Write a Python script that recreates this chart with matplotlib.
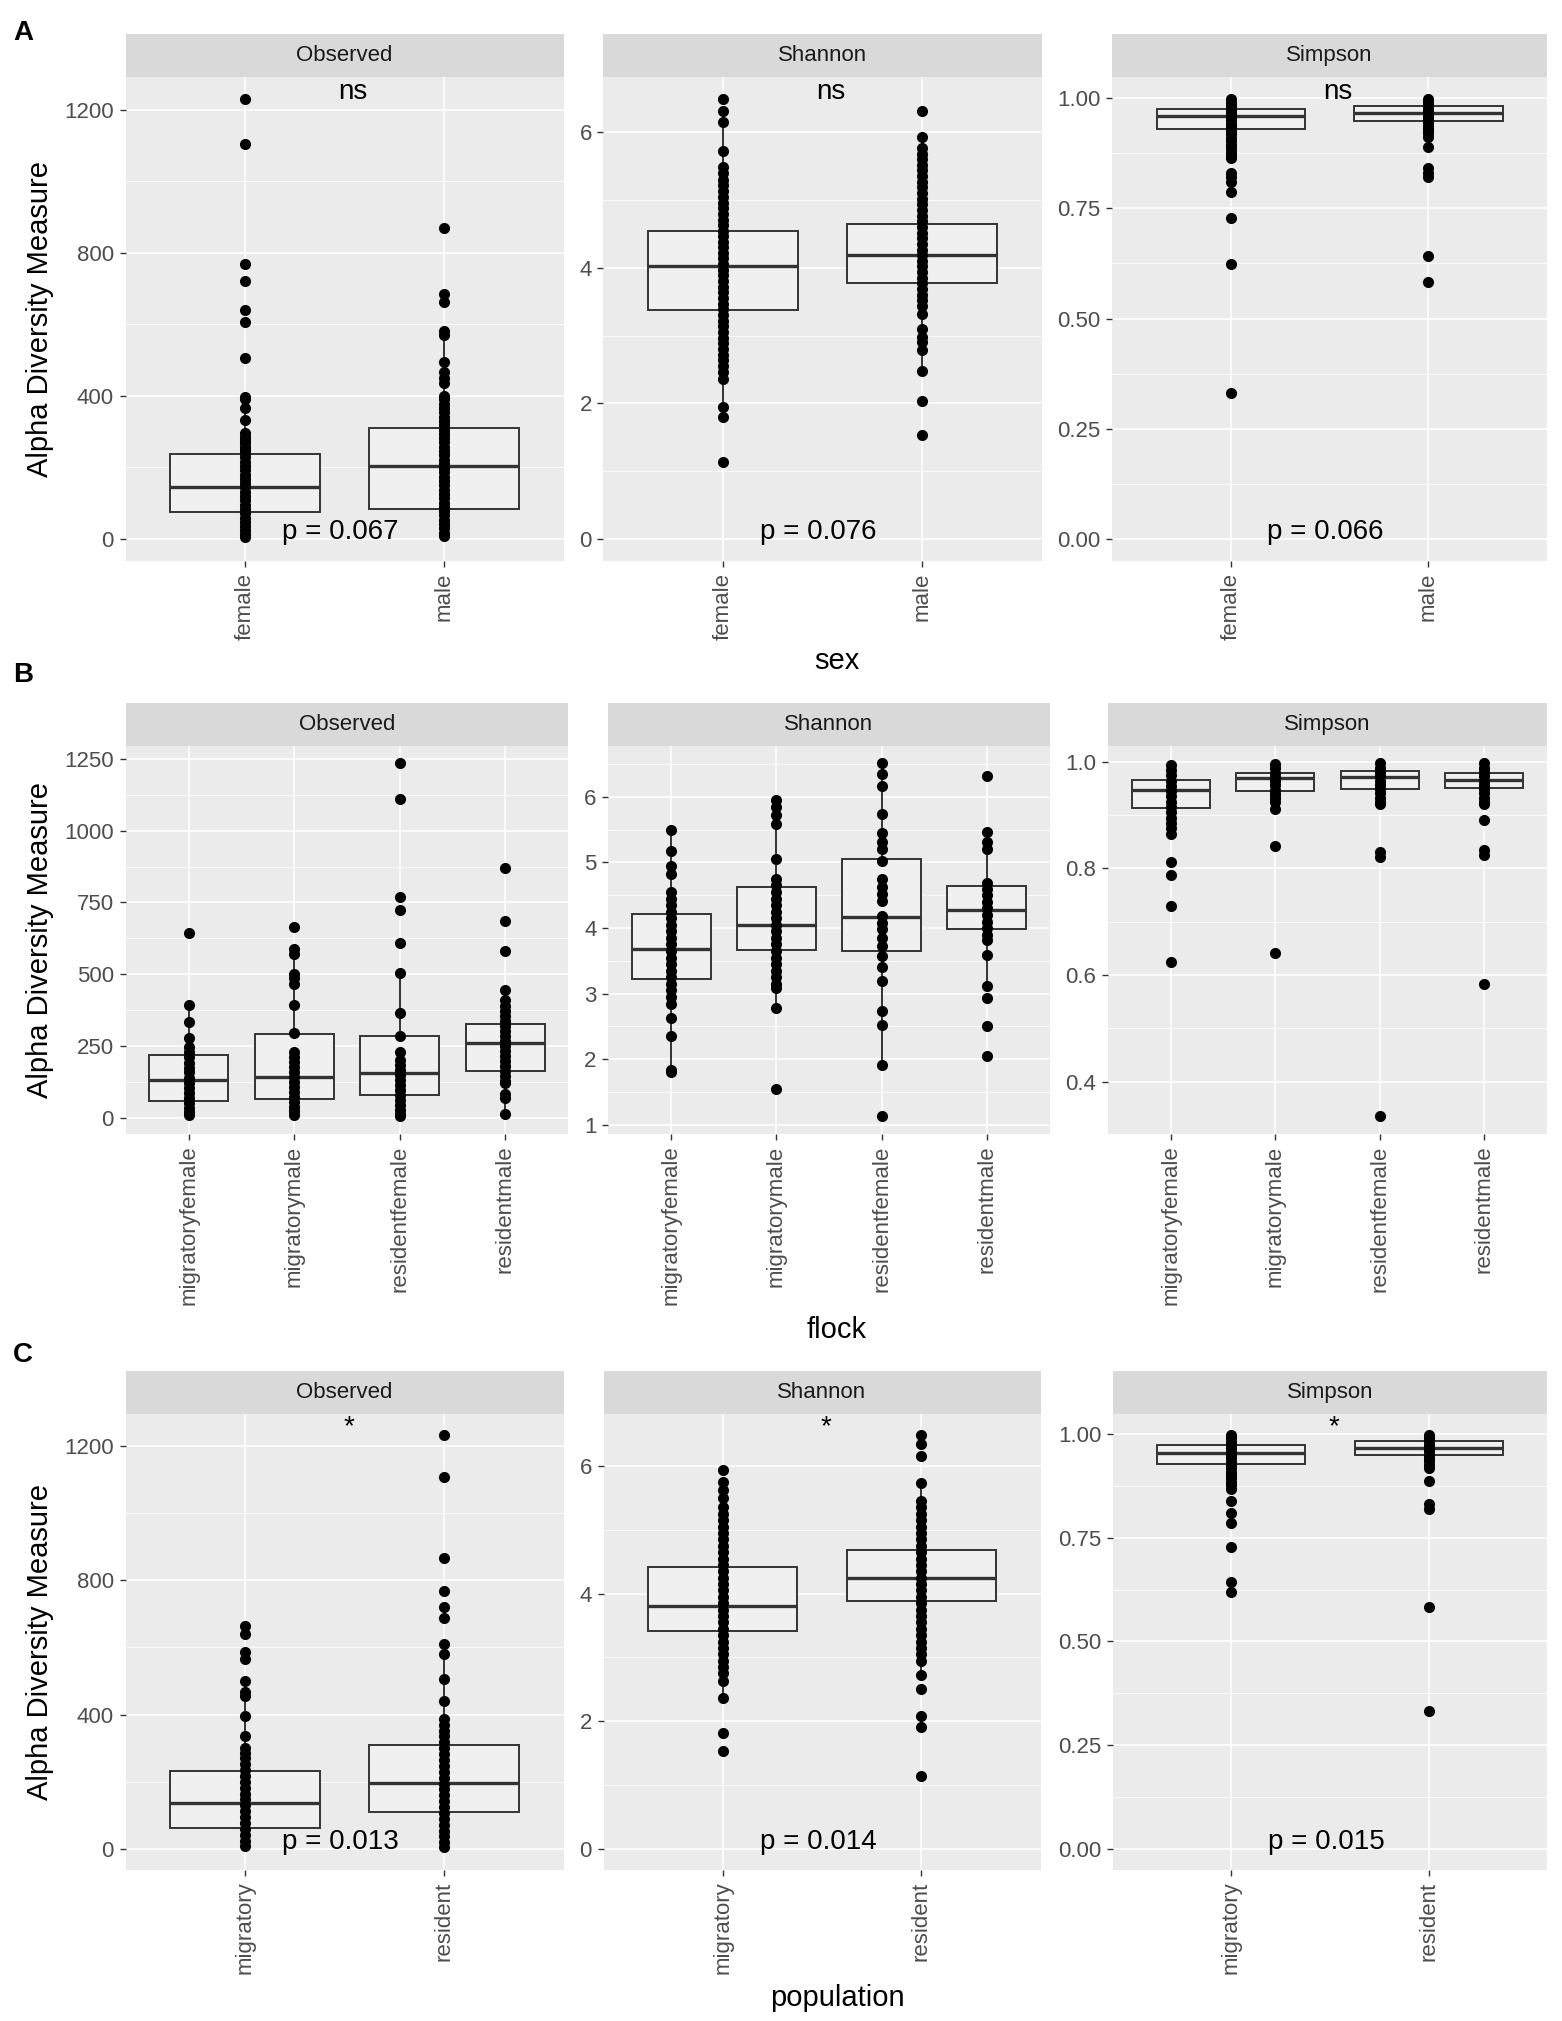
import numpy as np
import matplotlib
matplotlib.use("Agg")
import matplotlib.pyplot as plt
from matplotlib.ticker import MultipleLocator, FormatStrFormatter

plt.rcParams['font.family'] = ['Liberation Sans', 'DejaVu Sans']

W, H, DPI = 1562, 2021, 100

# ---------------- data ----------------
# box stats per group: (lower whisker, q1, median, q3, upper whisker)

# A: sex
sex_groups = ['female', 'male']
sex_observed = [
    [1230, 1105, 768, 722, 640, 608, 505, 398, 392, 366, 334, 295, 285, 278, 268, 258, 250,
     240, 228, 216, 204, 192, 180, 168, 156, 144, 132, 120, 108, 96, 84, 72, 60, 48, 36, 24, 14, 6],
    [868, 686, 663, 582, 570, 495, 466, 450, 436, 401, 390, 378, 366, 354, 342, 330, 318, 306,
     294, 282, 270, 258, 246, 234, 222, 210, 198, 186, 174, 162, 150, 138, 126, 114, 102, 90,
     78, 66, 54, 42, 30, 18, 8],
]
sex_observed_box = [(6, 76.5, 144, 238, 398), (8, 85, 203, 310, 582)]
sex_shannon = [
    [6.49, 6.32, 6.15, 5.73, 5.49, 5.40, 5.30, 5.22, 5.13, 5.05, 4.96, 4.88, 4.80, 4.71, 4.63,
     4.55, 4.47, 4.38, 4.30, 4.22, 4.14, 4.05, 3.97, 3.89, 3.80, 3.72, 3.64, 3.55, 3.47, 3.39,
     3.30, 3.22, 3.14, 3.05, 2.97, 2.89, 2.80, 2.72, 2.64, 2.55, 2.47, 2.36, 1.94, 1.80, 1.13],
    [6.31, 5.93, 5.77, 5.68, 5.60, 5.52, 5.44, 5.35, 5.27, 5.19, 5.10, 5.02, 4.94, 4.85, 4.77,
     4.69, 4.60, 4.52, 4.44, 4.35, 4.27, 4.19, 4.10, 4.02, 3.94, 3.85, 3.77, 3.69, 3.60, 3.52,
     3.44, 3.32, 3.10, 2.98, 2.90, 2.79, 2.48, 2.04, 1.53],
]
sex_shannon_box = [(1.80, 3.38, 4.02, 4.54, 6.15), (2.48, 3.77, 4.19, 4.64, 5.93)]
sex_simpson = [
    [0.998, 0.990, 0.982, 0.974, 0.966, 0.958, 0.950, 0.942, 0.934, 0.926, 0.918, 0.910, 0.902,
     0.894, 0.886, 0.878, 0.870, 0.864, 0.831, 0.822, 0.810, 0.786, 0.729, 0.623, 0.332],
    [0.998, 0.992, 0.986, 0.980, 0.974, 0.968, 0.962, 0.956, 0.950, 0.944, 0.938, 0.932, 0.926,
     0.920, 0.912, 0.888, 0.842, 0.830, 0.820, 0.642, 0.583],
]
sex_simpson_box = [(0.864, 0.930, 0.959, 0.976, 0.998), (0.912, 0.949, 0.966, 0.981, 0.998)]
sex_signif = 'ns'
sex_pvalues = ['p = 0.067', 'p = 0.076', 'p = 0.066']

# B: flock
flock_groups = ['migratoryfemale', 'migratorymale', 'residentfemale', 'residentmale']
flock_observed = [
    [643, 392, 333, 279, 245, 228, 210, 192, 175, 158, 140, 122, 105, 88, 70, 52, 35, 20, 8],
    [664, 587, 571, 501, 487, 467, 392, 294, 229, 212, 195, 178, 160, 142, 125, 108, 90, 72,
     55, 38, 22, 10],
    [1234, 1109, 769, 723, 609, 504, 365, 284, 229, 202, 185, 168, 150, 132, 115, 98, 80, 62,
     45, 28, 12, 5],
    [869, 687, 582, 444, 410, 390, 372, 355, 338, 320, 302, 285, 268, 250, 232, 215, 198, 180,
     162, 145, 128, 121, 83, 70, 12],
]
flock_observed_box = [(8, 59, 133, 218.6, 392), (10, 67, 143, 293, 587),
                      (5, 79, 155, 284, 504), (12, 164, 260, 327, 444)]
flock_shannon = [
    [5.49, 5.17, 4.95, 4.82, 4.55, 4.45, 4.35, 4.25, 4.15, 4.05, 3.95, 3.85, 3.75, 3.65, 3.55,
     3.45, 3.35, 3.25, 3.15, 3.05, 2.95, 2.85, 2.63, 2.36, 1.83, 1.80],
    [5.95, 5.85, 5.73, 5.58, 5.05, 4.75, 4.65, 4.55, 4.45, 4.35, 4.25, 4.15, 4.05, 3.95, 3.85,
     3.75, 3.65, 3.55, 3.45, 3.35, 3.25, 3.15, 3.08, 2.78, 1.54],
    [6.51, 6.35, 6.17, 5.74, 5.45, 5.32, 5.20, 5.02, 4.75, 4.62, 4.52, 4.42, 4.18, 4.08, 3.98,
     3.85, 3.72, 3.58, 3.40, 3.20, 2.73, 2.52, 1.92, 1.13],
    [6.32, 5.46, 5.32, 5.20, 4.68, 4.60, 4.50, 4.40, 4.30, 4.20, 4.10, 4.00, 3.90, 3.82, 3.59,
     3.12, 2.93, 2.50, 2.05],
]
flock_shannon_box = [(1.80, 3.22, 3.68, 4.22, 5.49), (2.78, 3.66, 4.05, 4.62, 5.95),
                     (1.92, 3.65, 4.17, 5.06, 6.51), (3.12, 3.99, 4.28, 4.64, 5.46)]
flock_simpson = [
    [0.995, 0.985, 0.975, 0.965, 0.955, 0.945, 0.935, 0.925, 0.915, 0.905, 0.895, 0.885, 0.875,
     0.864, 0.812, 0.787, 0.730, 0.624],
    [0.996, 0.988, 0.980, 0.972, 0.964, 0.956, 0.948, 0.940, 0.932, 0.924, 0.912, 0.842, 0.642],
    [0.997, 0.989, 0.981, 0.973, 0.965, 0.957, 0.949, 0.941, 0.933, 0.925, 0.920, 0.831, 0.821,
     0.335],
    [0.997, 0.989, 0.981, 0.973, 0.965, 0.957, 0.949, 0.941, 0.933, 0.925, 0.920, 0.890, 0.835,
     0.825, 0.584],
]
flock_simpson_box = [(0.864, 0.914, 0.947, 0.966, 0.995), (0.912, 0.946, 0.969, 0.980, 0.996),
                     (0.920, 0.950, 0.972, 0.983, 0.997), (0.920, 0.951, 0.966, 0.980, 0.997)]

# C: population
pop_groups = ['migratory', 'resident']
pop_observed = [
    [665, 641, 585, 565, 499, 468, 455, 395, 335, 300, 285, 270, 252, 235, 218, 200, 182, 165,
     148, 130, 112, 95, 78, 60, 42, 25, 9],
    [1233, 1107, 867, 769, 721, 688, 609, 580, 505, 442, 386, 370, 352, 335, 318, 300, 282, 265,
     248, 230, 212, 195, 178, 160, 142, 125, 108, 90, 72, 55, 38, 20, 5],
]
pop_observed_box = [(9, 62.5, 137, 233, 468), (5, 109, 197, 310, 609)]
pop_shannon = [
    [5.94, 5.75, 5.62, 5.50, 5.35, 5.25, 5.15, 5.05, 4.95, 4.85, 4.75, 4.65, 4.55, 4.45, 4.35,
     4.25, 4.15, 4.05, 3.95, 3.85, 3.75, 3.65, 3.55, 3.45, 3.35, 3.25, 3.15, 3.05, 2.95, 2.85,
     2.75, 2.63, 2.36, 1.82, 1.54],
    [6.49, 6.35, 6.16, 5.74, 5.45, 5.35, 5.25, 5.15, 5.05, 4.95, 4.85, 4.75, 4.65, 4.55, 4.45,
     4.35, 4.25, 4.15, 4.05, 3.95, 3.85, 3.75, 3.65, 3.55, 3.45, 3.35, 3.25, 3.15, 3.05, 2.94,
     2.73, 2.50, 2.08, 1.91, 1.14],
]
pop_shannon_box = [(2.36, 3.42, 3.80, 4.42, 5.75), (2.73, 3.89, 4.25, 4.68, 5.74)]
pop_simpson = [
    [0.997, 0.989, 0.981, 0.973, 0.965, 0.957, 0.949, 0.941, 0.933, 0.925, 0.917, 0.909, 0.901,
     0.893, 0.885, 0.877, 0.866, 0.839, 0.810, 0.785, 0.727, 0.644, 0.620],
    [0.998, 0.990, 0.982, 0.974, 0.966, 0.958, 0.950, 0.942, 0.934, 0.926, 0.917, 0.887, 0.831,
     0.820, 0.582, 0.332],
]
pop_simpson_box = [(0.866, 0.928, 0.954, 0.973, 0.997), (0.917, 0.949, 0.9655, 0.9815, 0.998)]
pop_signif = '*'
pop_pvalues = ['p = 0.013', 'p = 0.014', 'p = 0.015']

measures = ['Observed', 'Shannon', 'Simpson']

# ---------------- layout (pixels) ----------------
rows = [
    dict(letter='A', xlabel='sex', groups=sex_groups,
         data=[sex_observed, sex_shannon, sex_simpson],
         boxes=[sex_observed_box, sex_shannon_box, sex_simpson_box],
         signif=sex_signif, pvals=sex_pvalues,
         strip=(33.7, 77), panel=(77, 561),
         xs=[(125.5, 563.7), (603.4, 1041.5), (1112.3, 1547)],
         ticks=[(400, 200, '%d'), (2, 1, '%d'), (0.25, 0.125, '%.2f')],
         letter_y=40, xlabel_y=669),
    dict(letter='B', xlabel='flock', groups=flock_groups,
         data=[flock_observed, flock_shannon, flock_simpson],
         boxes=[flock_observed_box, flock_shannon_box, flock_simpson_box],
         signif=None, pvals=None,
         strip=(702.5, 745.8), panel=(745.8, 1134),
         xs=[(125.5, 568.3), (608, 1050), (1108, 1547)],
         ticks=[(250, 125, '%d'), (1, 0.5, '%d'), (0.2, 0.1, '%.1f')],
         letter_y=682, xlabel_y=1338),
    dict(letter='C', xlabel='population', groups=pop_groups,
         data=[pop_observed, pop_shannon, pop_simpson],
         boxes=[pop_observed_box, pop_shannon_box, pop_simpson_box],
         signif=pop_signif, pvals=pop_pvalues,
         strip=(1370.5, 1413.9), panel=(1413.9, 1869.8),
         xs=[(125.5, 563.7), (603.5, 1040.5), (1112.7, 1547)],
         ticks=[(400, 200, '%d'), (2, 1, '%d'), (0.25, 0.125, '%.2f')],
         letter_y=1362.5, xlabel_y=2006),
]


def rect(x0, x1, ytop, ybot):
    return [x0 / W, 1 - ybot / H, (x1 - x0) / W, (ybot - ytop) / H]


fig = plt.figure(figsize=(W / DPI, H / DPI), dpi=DPI)

for row in rows:
    n = len(row['groups'])
    pos = np.arange(1, n + 1)
    for k, (vals, box) in enumerate(zip(row['data'], row['boxes'])):
        x0, x1 = row['xs'][k]
        ax = fig.add_axes(rect(x0, x1, row['panel'][0], row['panel'][1]))
        ax.set_facecolor('#EBEBEB')
        for s in ax.spines.values():
            s.set_visible(False)
        ax.set_axisbelow(True)

        stats = [dict(whislo=b[0], q1=b[1], med=b[2], q3=b[3], whishi=b[4]) for b in box]
        ax.bxp(stats, positions=pos, widths=0.75, showfliers=False, showcaps=False,
               patch_artist=True,
               boxprops=dict(facecolor='#F0F0F0', edgecolor='#333333', linewidth=1.4),
               medianprops=dict(color='#333333', linewidth=2.4),
               whiskerprops=dict(color='#333333', linewidth=1.4), zorder=2)
        for p, v in zip(pos, vals):
            ax.plot(np.full(len(v), p), v, 'o', color='black', ms=8, mew=0, zorder=3)

        allv = [x for v in vals for x in v]
        lo, hi = min(allv), max(allv)
        if row['pvals'] is not None:
            lo = min(lo, 0)
            ax.text(1.48, 0, row['pvals'][k], ha='center', va='baseline', fontsize=20,
                    color='black', zorder=4)
            sx = 1.54 if row['signif'] == 'ns' else 1.52
            ax.text(sx, hi, row['signif'], ha='center', va='baseline', fontsize=20,
                    color='black', zorder=4)
        pad = 0.05 * (hi - lo)
        ax.set_ylim(lo - pad, hi + pad)
        ax.set_xlim(0.4, n + 0.6)

        major, minor, fmt = row['ticks'][k]
        ax.yaxis.set_major_locator(MultipleLocator(major))
        ax.yaxis.set_minor_locator(MultipleLocator(minor))
        ax.yaxis.set_major_formatter(FormatStrFormatter(fmt))
        ax.set_xticks(pos)
        ax.set_xticklabels(row['groups'], rotation=90, va='top', ha='center')
        ax.grid(which='major', color='white', linewidth=1.1)
        ax.grid(which='minor', axis='y', color='white', linewidth=0.55)
        ax.tick_params(which='major', length=4.3, width=1.0, color='#333333',
                       labelcolor='#4D4D4D', labelsize=16, pad=4)
        ax.tick_params(which='minor', length=0)

        # facet strip
        sax = fig.add_axes(rect(x0, x1, row['strip'][0], row['strip'][1]))
        sax.set_facecolor('#D9D9D9')
        sax.set_xticks([])
        sax.set_yticks([])
        for s in sax.spines.values():
            s.set_visible(False)
        sax.text(0.5, 0.5, measures[k], ha='center', va='center', fontsize=16,
                 color='#1A1A1A', transform=sax.transAxes)

    pc = (row['panel'][0] + row['panel'][1]) / 2
    fig.text(40 / W, 1 - pc / H, 'Alpha Diversity Measure', rotation=90, ha='center',
             va='center', fontsize=21)
    fig.text(837 / W, 1 - row['xlabel_y'] / H, row['xlabel'], ha='center', va='baseline',
             fontsize=21)
    fig.text(13 / W, 1 - row['letter_y'] / H, row['letter'], ha='left', va='baseline',
             fontsize=20, fontweight='bold')

fig.savefig('out.png', dpi=DPI, facecolor='white')
